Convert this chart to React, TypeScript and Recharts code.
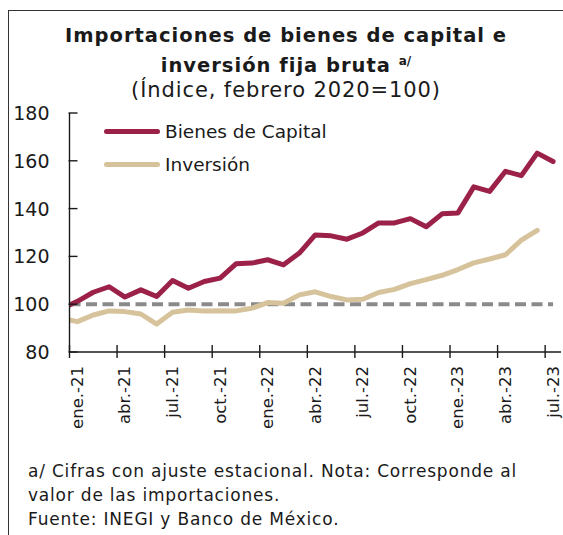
import { LineChart, Line, XAxis, YAxis, ReferenceLine } from "recharts";

// dic.-20 is only partly visible: the plot clips it at the y axis
const months = [
  "dic.-20",
  "ene.-21", "feb.-21", "mar.-21", "abr.-21", "may.-21", "jun.-21",
  "jul.-21", "ago.-21", "sep.-21", "oct.-21", "nov.-21", "dic.-21",
  "ene.-22", "feb.-22", "mar.-22", "abr.-22", "may.-22", "jun.-22",
  "jul.-22", "ago.-22", "sep.-22", "oct.-22", "nov.-22", "dic.-22",
  "ene.-23", "feb.-23", "mar.-23", "abr.-23", "may.-23", "jun.-23",
  "jul.-23",
];

const bienesCapital = [
  98.2,
  101.2, 105.0, 107.3, 103.0, 106.0, 103.2,
  109.9, 106.7, 109.5, 110.9, 116.9, 117.2,
  118.6, 116.5, 121.4, 129.0, 128.6, 127.2,
  129.8, 134.0, 134.0, 135.8, 132.4, 137.8,
  138.2, 149.1, 147.2, 155.6, 153.8, 163.2,
  159.7,
];

const inversion = [
  94.1,
  92.7, 95.5, 97.2, 96.9, 95.9, 91.7,
  96.6, 97.6, 97.2, 97.3, 97.2, 98.3,
  100.7, 100.4, 103.9, 105.2, 103.2, 101.8,
  102.1, 104.9, 106.2, 108.6, 110.3, 112.1,
  114.5, 117.3, 118.9, 120.7, 126.8, 130.9,
  null,
];

const xTicks = [0, 3, 6, 9, 12, 15, 18, 21, 24, 27, 30];
const yTicks = [80, 100, 120, 140, 160, 180];

const RED = "#9b2148";
const TAN = "#d6c39b";
const GREY = "#8a8a8a";
const INK = "#1a1a1a";
const FONT = "'DejaVu Sans', sans-serif";

const data = months.map((mes, i) => ({
  idx: i - 1,
  mes,
  bienes: bienesCapital[i],
  inversion: inversion[i],
}));

const PLOT_W = 491.5;
const HALF_BAND = PLOT_W / 31 / 2;

const XTick = ({ x, y, payload }: any) => {
  const label = months[payload.value + 1];
  return (
    <g>
      <line x1={x - HALF_BAND} x2={x - HALF_BAND} y1={y - 7} y2={y + 6} stroke={INK} strokeWidth={1.4} />
      <text
        transform={`translate(${x},${y + 14}) rotate(-90)`}
        textAnchor="end"
        dominantBaseline="central"
        fontSize={16.5}
        fontFamily={FONT}
        fill={INK}
      >
        {label}
      </text>
    </g>
  );
};

const YTick = ({ x, y, payload }: any) => (
  <g>
    <line x1={x - 1} x2={x + 8} y1={y} y2={y} stroke={INK} strokeWidth={1.4} />
    <text
      x={x - 20}
      y={y}
      textAnchor="end"
      dominantBaseline="central"
      fontSize={19}
      fontFamily={FONT}
      fill={INK}
    >
      {payload.value}
    </text>
  </g>
);

export default function App() {
  return (
    <div
      style={{
        position: "absolute",
        left: 0,
        top: 0,
        width: 563,
        height: 535,
        overflow: "hidden",
        background: "#fff",
        fontFamily: FONT,
        color: INK,
      }}
    >
      <div
        style={{
          position: "absolute",
          left: 8,
          top: 10,
          width: 700,
          height: 700,
          borderTop: "1.3px solid #333",
          borderLeft: "1.3px solid #333",
        }}
      />
      <div style={{ position: "absolute", left: 0, width: 572, top: 24, textAlign: "center", lineHeight: "24.5px" }}>
        <div style={{ fontWeight: "bold", fontSize: 19.5, letterSpacing: 1 }}>Importaciones de bienes de capital e</div>
        <div style={{ fontWeight: "bold", fontSize: 19.5, letterSpacing: 1 }}>
          inversión fija bruta <sup style={{ fontSize: 12, verticalAlign: "7px", letterSpacing: 0 }}>a/</sup>
        </div>
        <div style={{ fontSize: 21, letterSpacing: 0.9 }}>(Índice, febrero 2020=100)</div>
      </div>

      <LineChart
        width={563}
        height={535}
        data={data}
        margin={{ top: 113, right: 2, bottom: 182, left: 68.5 }}
        style={{ position: "absolute", left: 0, top: 0 }}
      >
        <XAxis
          dataKey="idx"
          type="number"
          domain={[-0.5, 30.5]}
          allowDataOverflow
          ticks={xTicks}
          interval={0}
          height={1}
          tickSize={0}
          tickMargin={0}
          tickLine={false}
          axisLine={{ stroke: INK, strokeWidth: 1.4 }}
          tick={<XTick />}
        />
        <YAxis
          type="number"
          domain={[80, 180]}
          ticks={yTicks}
          interval={0}
          width={1}
          tickSize={0}
          tickMargin={0}
          tickLine={false}
          axisLine={{ stroke: INK, strokeWidth: 1.4 }}
          tick={<YTick />}
        />
        <ReferenceLine
          segment={[{ x: -0.5, y: 100 }, { x: 30, y: 100 }]}
          stroke={GREY}
          strokeWidth={4}
          strokeDasharray="11 5.5"
        />
        <Line
          dataKey="inversion"
          stroke={TAN}
          strokeWidth={5}
          dot={false}
          strokeLinecap="round"
          strokeLinejoin="round"
          isAnimationActive={false}
        />
        <Line
          dataKey="bienes"
          stroke={RED}
          strokeWidth={5}
          dot={false}
          strokeLinecap="round"
          strokeLinejoin="round"
          isAnimationActive={false}
        />
      </LineChart>

      <div style={{ position: "absolute", left: 104, top: 115, fontSize: 18.5 }}>
        {[
          { name: "Bienes de Capital", color: RED },
          { name: "Inversión", color: TAN },
        ].map((item) => (
          <div key={item.name} style={{ display: "flex", alignItems: "center", height: 33 }}>
            <div style={{ width: 56, height: 5, borderRadius: 3, background: item.color, marginRight: 5 }} />
            <span>{item.name}</span>
          </div>
        ))}
      </div>

      <div style={{ position: "absolute", left: 28, top: 459, fontSize: 17, letterSpacing: 0.8, lineHeight: "24px" }}>
        <div>a/ Cifras con ajuste estacional. Nota: Corresponde al</div>
        <div>valor de las importaciones.</div>
        <div>Fuente: INEGI y Banco de México.</div>
      </div>
    </div>
  );
}
